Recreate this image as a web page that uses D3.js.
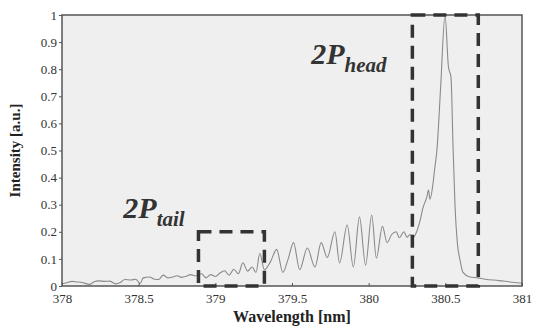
<!DOCTYPE html>
<html>
<head>
<meta charset="utf-8">
<script src="https://cdn.jsdelivr.net/npm/d3@7"></script>
<style>
	body { margin: 0; background: #fff; }
</style>
</head>
<body>
<div id="app"></div>
<script>
//////////////////////////// data /////////////////////////////////////////

const wavelength = [
	378.0, 378.03, 378.065, 378.1, 378.13, 378.18, 378.21, 378.24, 378.28, 378.31,
	378.35, 378.38, 378.41, 378.45, 378.48, 378.51, 378.53, 378.57, 378.6, 378.63,
	378.66, 378.69, 378.72, 378.75, 378.78, 378.81, 378.84, 378.87, 378.91, 378.94,
	378.97, 379.0, 379.03, 379.06, 379.09, 379.12, 379.15, 379.18, 379.21, 379.24,
	379.265, 379.29, 379.32, 379.36, 379.4, 379.44, 379.475, 379.51, 379.55, 379.6,
	379.65, 379.69, 379.73, 379.78, 379.81, 379.86, 379.9, 379.94, 379.98, 380.02,
	380.05, 380.09, 380.12, 380.15, 380.18, 380.2, 380.23, 380.25, 380.27, 380.29,
	380.3, 380.33, 380.355, 380.38, 380.39, 380.4, 380.42, 380.43, 380.445, 380.47,
	380.498, 380.52, 380.537, 380.55, 380.563, 380.58, 380.596, 380.615, 380.66, 380.71,
	380.76, 380.85, 380.92, 381.0
];
const intensity = [
	0.008, 0.012, 0.017, 0.015, 0.013, 0.006, 0.016, 0.019, 0.017, 0.018,
	0.008, 0.013, 0.024, 0.022, 0.025, 0.01, 0.03, 0.033, 0.026, 0.024,
	0.04, 0.03, 0.033, 0.038, 0.032, 0.036, 0.042, 0.037, 0.045, 0.03,
	0.042, 0.035, 0.048, 0.056, 0.04, 0.062, 0.045, 0.086, 0.055, 0.07,
	0.05, 0.12, 0.06, 0.09, 0.135, 0.05, 0.1, 0.16, 0.06, 0.14,
	0.07, 0.16, 0.105, 0.2, 0.085, 0.225, 0.07, 0.255, 0.077, 0.262,
	0.103, 0.22, 0.16, 0.19, 0.2, 0.178, 0.2, 0.18, 0.19, 0.18,
	0.185, 0.23, 0.29, 0.33, 0.354, 0.32, 0.38, 0.43, 0.5, 0.74,
	1.0, 0.81, 0.77, 0.52, 0.3, 0.15, 0.096, 0.05, 0.033, 0.03,
	0.025, 0.02, 0.015, 0.01
];

const xTicks = [378, 378.5, 379, 379.5, 380, 380.5, 381];
const yTicks = [0, 0.1, 0.2, 0.3, 0.4, 0.5, 0.6, 0.7, 0.8, 0.9, 1];

// dashed regions [x0, x1, y0, y1]
const tailBox = [378.89, 379.32, 0, 0.2];
const headBox = [380.285, 380.715, 0, 1];

//////////////////////////// accessors ////////////////////////////////////

const data = wavelength.map((w, i) => ({ w: w, v: intensity[i] }));
const xAccessor = (d) => d.w;
const yAccessor = (d) => d.v;

//////////////////////////// sizes ///////////////////////////////////////

let dimensions = {
	width: 533,
	height: 328,
	margin: { top: 15, right: 11, bottom: 42, left: 62 }
};
dimensions.boundedWidth =
	dimensions.width - dimensions.margin.left - dimensions.margin.right;
dimensions.boundedHeight =
	dimensions.height - dimensions.margin.top - dimensions.margin.bottom;

// inline style so nothing outside can override it
const fontStyle = (size, weight, italic) =>
	`font-family:'Liberation Serif',serif !important;font-size:${size}px;` +
	`font-weight:${weight};font-style:${italic ? "italic" : "normal"}`;

//////////////////////////// svg ///////////////////////////////////////

const wrapper = d3
	.select("#app")
	.append("svg")
	.attr("width", dimensions.width)
	.attr("height", dimensions.height);

const bounds = wrapper
	.append("g")
	.attr("transform", `translate(${dimensions.margin.left},${dimensions.margin.top})`);

//////////////////////////// scales ///////////////////////////////////////

const xScale = d3
	.scaleLinear()
	.domain([378, 381])
	.range([0, dimensions.boundedWidth]);

const yScale = d3
	.scaleLinear()
	.domain([0, 1])
	.range([dimensions.boundedHeight, 0]);

//////////////////////////// background ///////////////////////////////////

bounds
	.append("rect")
	.attr("width", dimensions.boundedWidth)
	.attr("height", dimensions.boundedHeight)
	.attr("fill", "#efefef");

//////////////////////////// line /////////////////////////////////////////

const lineGen = d3
	.line()
	.x((d) => xScale(xAccessor(d)))
	.y((d) => yScale(yAccessor(d)))
	.curve(d3.curveMonotoneX);

bounds
	.append("path")
	.datum(data)
	.attr("d", lineGen)
	.attr("fill", "none")
	.attr("stroke", "#8a8a8a")
	.attr("stroke-width", 1.1);

//////////////////////////// axes /////////////////////////////////////////

const fmt = (d) => String(d);

const xAxis = bounds
	.append("g")
	.attr("transform", `translate(0,${dimensions.boundedHeight})`)
	.call(d3.axisBottom(xScale).tickValues(xTicks).tickFormat(fmt)
		.tickSize(-3).tickSizeOuter(0).tickPadding(8));

const yAxis = bounds
	.append("g")
	.call(d3.axisLeft(yScale).tickValues(yTicks).tickFormat(fmt)
		.tickSize(3).tickSizeOuter(0).tickPadding(2));

[xAxis, yAxis].forEach((ax) => {
	ax.attr("font-family", null).attr("font-size", null);
	ax.select(".domain").remove();
	ax.selectAll("line").attr("stroke", "#555");
	ax.selectAll("text").attr("fill", "#333").attr("style", fontStyle(13, "normal", false));
});

// frame
bounds
	.append("rect")
	.attr("width", dimensions.boundedWidth)
	.attr("height", dimensions.boundedHeight)
	.attr("fill", "none")
	.attr("stroke", "#555")
	.attr("stroke-width", 1.5);

//////////////////////////// dashed boxes /////////////////////////////////

[tailBox, headBox].forEach((b) => {
	bounds
		.append("rect")
		.attr("x", xScale(b[0]))
		.attr("y", yScale(b[3]))
		.attr("width", xScale(b[1]) - xScale(b[0]))
		.attr("height", yScale(b[2]) - yScale(b[3]))
		.attr("fill", "none")
		.attr("stroke", "#333")
		.attr("stroke-width", 3.5)
		.attr("stroke-dasharray", "13,8");
});

//////////////////////////// labels ///////////////////////////////////////

const annotate = (x, y, sub) => {
	const t = bounds
		.append("text")
		.attr("x", xScale(x))
		.attr("y", yScale(y))
		.attr("fill", "#333")
		.attr("style", fontStyle(30, "bold", true));
	t.append("tspan").text("2P");
	t.append("tspan").attr("dy", 8).attr("style", fontStyle(21, "bold", true)).text(sub);
};
annotate(379.625, 0.82, "head");
annotate(378.4, 0.25, "tail");

wrapper
	.append("text")
	.attr("x", dimensions.margin.left + dimensions.boundedWidth / 2)
	.attr("y", 322)
	.attr("text-anchor", "middle")
	.attr("fill", "#222")
	.attr("style", fontStyle(16, "bold", false))
	.text("Wavelength [nm]");

wrapper
	.append("text")
	.attr("transform", `translate(20,${dimensions.margin.top + dimensions.boundedHeight / 2}) rotate(-90)`)
	.attr("text-anchor", "middle")
	.attr("fill", "#222")
	.attr("style", fontStyle(15, "bold", false))
	.text("Intensity [a.u.]");
</script>
</body>
</html>
